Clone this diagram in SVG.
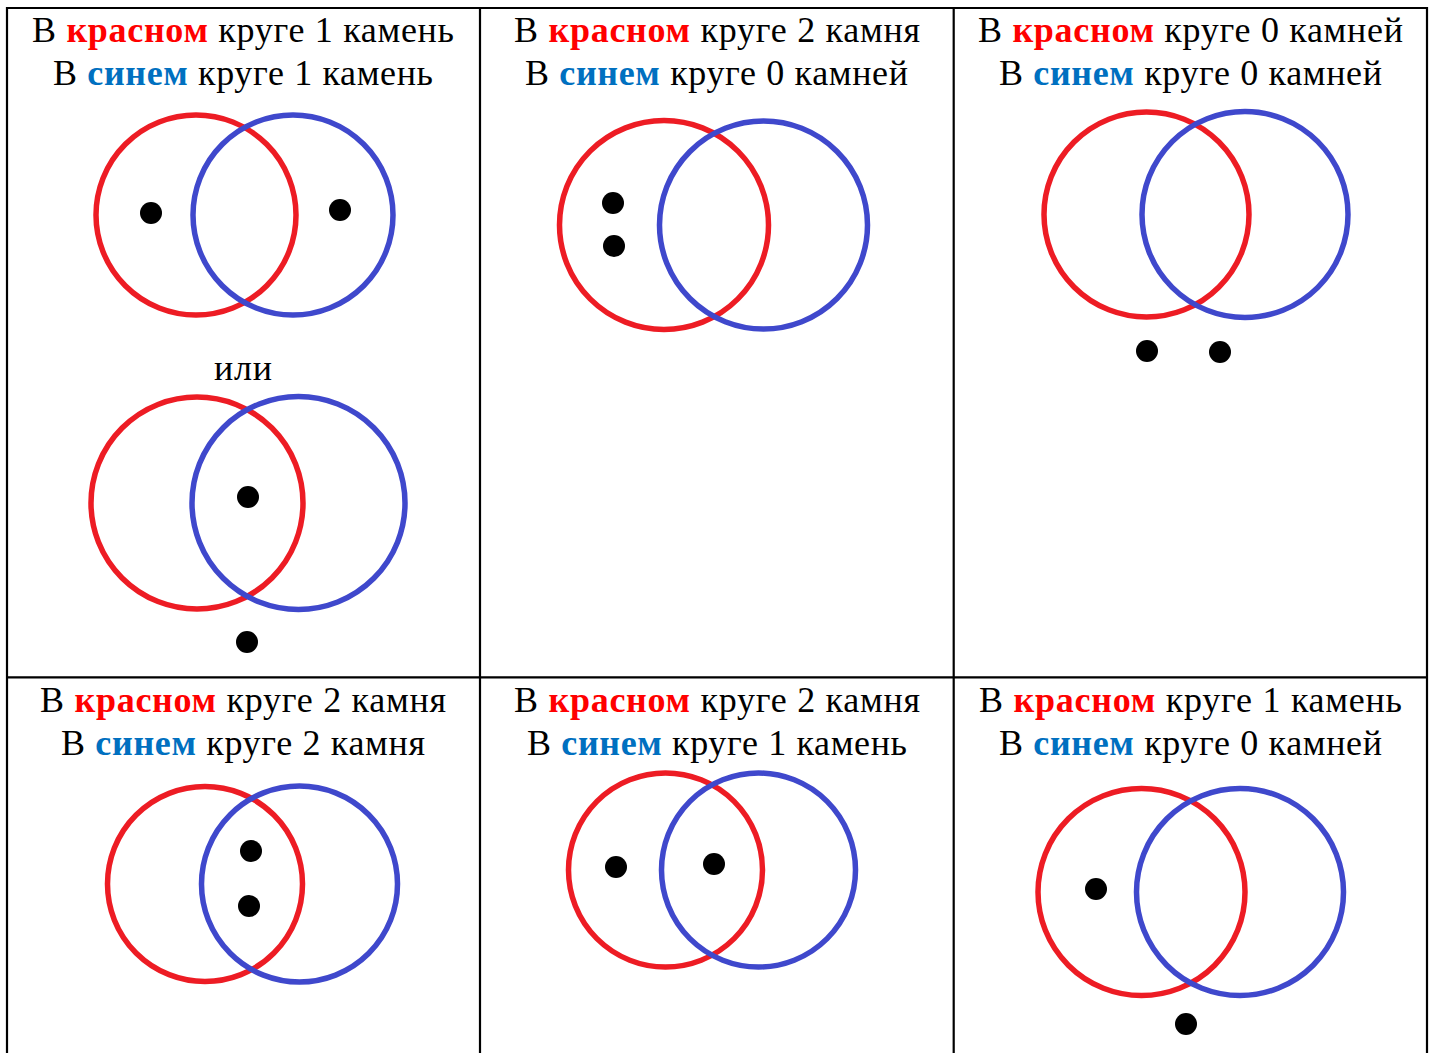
<svg xmlns="http://www.w3.org/2000/svg" width="1429" height="1053" viewBox="0 0 1429 1053">
<style>
.grid{stroke:#000;stroke-width:2.2;fill:none}
.r{fill:none;stroke:#ED1C24;stroke-width:5.5}
.b{fill:none;stroke:#3F48CC;stroke-width:5.5}
.d{fill:#000}
.t{font-family:"Liberation Serif","Times New Roman",serif;font-size:36px;fill:#000;text-anchor:middle}
.kr{fill:#FF0000;font-weight:bold}
.kb{fill:#0070C0;font-weight:bold}
</style>
<rect width="1429" height="1053" fill="#fff"/>
<g id="grid">
<path class="grid" d="M7,8 H1427 M7,677.3 H1427 M7,7 V1053 M480,7 V1053 M953.7,7 V1053 M1427,7 V1053"/>
</g>
<g id="cell1">
<text class="t" x="243" y="42" textLength="422" lengthAdjust="spacing">В <tspan class="kr">красном</tspan> круге 1 камень</text>
<text class="t" x="243" y="85" textLength="380" lengthAdjust="spacing">В <tspan class="kb">синем</tspan> круге 1 камень</text>
<circle class="r" cx="196" cy="215" r="100"/>
<circle class="b" cx="293" cy="215" r="100"/>
<circle class="d" cx="151" cy="213" r="11"/>
<circle class="d" cx="340" cy="210" r="11"/>
<text class="t" x="243" y="380" textLength="58" lengthAdjust="spacing">или</text>
<circle class="r" cx="197" cy="503" r="106"/>
<circle class="b" cx="298.5" cy="503" r="106.5"/>
<circle class="d" cx="248" cy="497" r="11"/>
<circle class="d" cx="247" cy="642" r="11"/>
</g>
<g id="cell2">
<text class="t" x="717" y="42" textLength="406" lengthAdjust="spacing">В <tspan class="kr">красном</tspan> круге 2 камня</text>
<text class="t" x="716.5" y="85" textLength="383" lengthAdjust="spacing">В <tspan class="kb">синем</tspan> круге 0 камней</text>
<circle class="r" cx="664" cy="225" r="104.5"/>
<circle class="b" cx="763.5" cy="225" r="104"/>
<circle class="d" cx="613" cy="203" r="11"/>
<circle class="d" cx="614" cy="246" r="11"/>
</g>
<g id="cell3">
<text class="t" x="1190.5" y="42" textLength="425" lengthAdjust="spacing">В <tspan class="kr">красном</tspan> круге 0 камней</text>
<text class="t" x="1190.5" y="85" textLength="383" lengthAdjust="spacing">В <tspan class="kb">синем</tspan> круге 0 камней</text>
<circle class="r" cx="1146.5" cy="214.5" r="102.5"/>
<circle class="b" cx="1245" cy="214.5" r="103"/>
<circle class="d" cx="1147" cy="351" r="11"/>
<circle class="d" cx="1220" cy="352" r="11"/>
</g>
<g id="cell4">
<text class="t" x="243" y="712" textLength="406" lengthAdjust="spacing">В <tspan class="kr">красном</tspan> круге 2 камня</text>
<text class="t" x="243" y="755" textLength="364" lengthAdjust="spacing">В <tspan class="kb">синем</tspan> круге 2 камня</text>
<circle class="r" cx="205" cy="884" r="97.5"/>
<circle class="b" cx="299.5" cy="884" r="98"/>
<circle class="d" cx="251" cy="851" r="11"/>
<circle class="d" cx="249" cy="906" r="11"/>
</g>
<g id="cell5">
<text class="t" x="717" y="712" textLength="406" lengthAdjust="spacing">В <tspan class="kr">красном</tspan> круге 2 камня</text>
<text class="t" x="717" y="755" textLength="380" lengthAdjust="spacing">В <tspan class="kb">синем</tspan> круге 1 камень</text>
<circle class="r" cx="665.5" cy="870" r="97"/>
<circle class="b" cx="758.5" cy="870" r="97"/>
<circle class="d" cx="616" cy="867" r="11"/>
<circle class="d" cx="714" cy="864" r="11"/>
</g>
<g id="cell6">
<text class="t" x="1190.5" y="712" textLength="423" lengthAdjust="spacing">В <tspan class="kr">красном</tspan> круге 1 камень</text>
<text class="t" x="1190.5" y="755" textLength="383" lengthAdjust="spacing">В <tspan class="kb">синем</tspan> круге 0 камней</text>
<circle class="r" cx="1141.5" cy="892" r="103.5"/>
<circle class="b" cx="1240" cy="892" r="103.5"/>
<circle class="d" cx="1096" cy="889" r="11"/>
<circle class="d" cx="1186" cy="1024" r="11"/>
</g>
</svg>
